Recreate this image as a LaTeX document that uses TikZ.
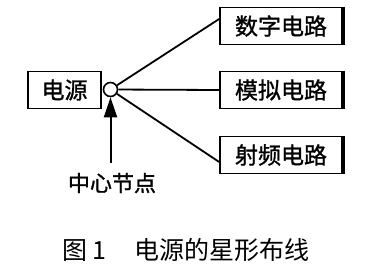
\documentclass[tikz,border=0pt]{standalone}
\usepackage{fontspec}
\newfontfamily\cjk[FakeBold=1.2]{Noto Sans CJK SC}
\newfontfamily\cjkcap{Noto Sans CJK SC}
\usetikzlibrary{arrows.meta,calc}
\begin{document}
\begin{tikzpicture}[x=1pt,y=-1pt,
  box/.style={draw,line width=1.8pt,minimum height=37pt,inner sep=0pt,font=\cjk\fontsize{23}{23}\selectfont},
  wire/.style={line width=1.8pt},
  edge/.style={line width=3.2pt}]
\useasboundingbox (0,0) rectangle (374,280);
\node[box,minimum width=73pt] (src) at (64.5,90) {电源};
\node[box,minimum width=122pt] (b1) at (281,26) {数字电路};
\node[box,minimum width=122pt] (b2) at (281,90) {模拟电路};
\node[box,minimum width=122pt] (b3) at (281,155) {射频电路};
\foreach \b in {b1,b2,b3}{\draw[edge] (\b.north east) -- (\b.south east);}
\coordinate (e1) at ($(b1.north west)!0.32!(b1.south west)$);
\coordinate (e3) at ($(b3.north west)!0.68!(b3.south west)$);
\node[draw,circle,line width=1.6pt,minimum size=14pt,inner sep=0pt,fill=white] (c) at (110.5,89.5) {};
\draw[wire] (c) -- (e1);
\draw[wire] (c) -- (b2.west);
\draw[wire] (c) -- (e3);
\node[font=\cjk\fontsize{22}{22}\selectfont,inner sep=0pt] (lbl) at (112,183) {中心节点};
\coordinate (as) at (110.5,163);
\draw[line width=2pt,-{Triangle[width=13pt,length=20pt]}] (as) -- (c.south);
\node[font=\cjkcap\fontsize{25}{25}\selectfont,anchor=west,inner sep=0pt] (cap) at (62,250) {图 1\hspace{28pt}电源的星形布线};
\end{tikzpicture}
\end{document}
